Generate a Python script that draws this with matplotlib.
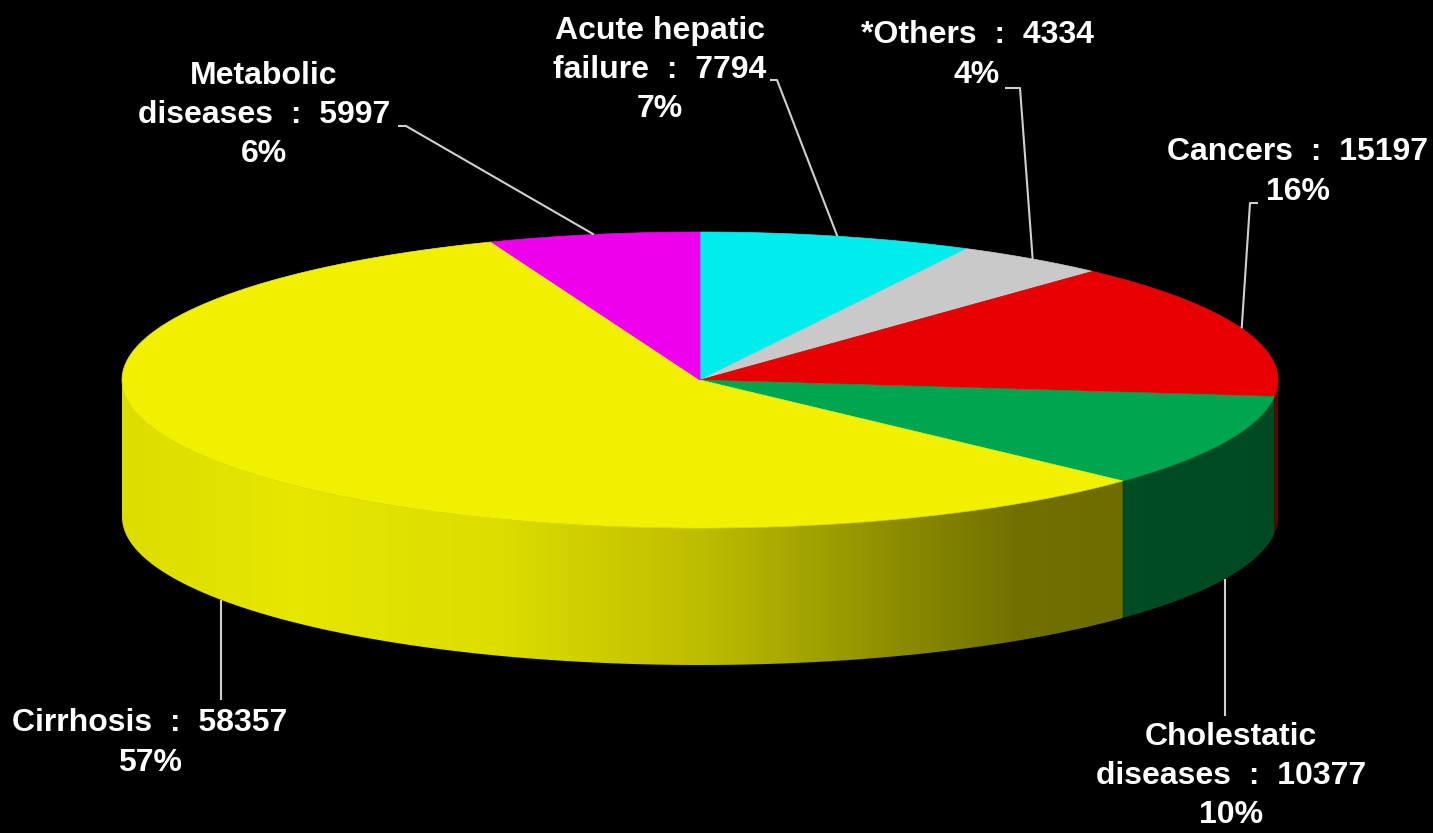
import numpy as np
import matplotlib
matplotlib.use("Agg")
import matplotlib.pyplot as plt
from matplotlib.patches import Polygon
from matplotlib.colors import to_rgb

# ---- data ----
categories = ["Acute hepatic\nfailure", "*Others", "Cancers",
              "Cholestatic\ndiseases", "Cirrhosis", "Metabolic\ndiseases"]
values = [7794, 4334, 15197, 10377, 58357, 5997]
percents = [7, 4, 16, 10, 57, 6]
colors = ["#00eded", "#c9c9c9", "#e80000", "#00a64f", "#f0f000", "#ee00ee"]

# ---- layout (pixel space) ----
W, H = 1433, 833
CX, CY, RX, RY, DEPTH = 700, 380, 578, 148, 137
FS = 23
LINE_C = "#d0d0d0"

label_pos = [(660, 70), (977, 55), (1298, 172), (1231, 776), (150, 743), (264, 115)]
leader_start = [[(770, 80), (777, 80)],
                [(1005, 88), (1020, 88)],
                [(1258, 203), (1250, 203)],
                None,
                None,
                [(398, 126), (406, 126)]]
vertical_end = [None, None, None, 716, 700, None]

fig = plt.figure(figsize=(W / 100, H / 100), dpi=100, facecolor="black")
ax = fig.add_axes([0, 0, 1, 1])
ax.set_facecolor("black")
ax.set_xlim(0, W)
ax.set_ylim(H, 0)
ax.axis("off")


def ell(t):
    r = np.radians(t)
    return CX + RX * np.sin(r), CY - RY * np.cos(r)


total = float(sum(values))
bounds = np.concatenate([[0], np.cumsum(values)]) / total * 360.0

# side walls (front half only: 90..270 deg clockwise from top), smooth gradient
xcols = np.arange(CX - RX - 2, CX + RX + 3)
nx = np.clip((xcols - CX) / RX, -1, 1)
shade = np.interp(nx, [-1, -0.7, -0.35, 0, 0.35, 0.55, 0.7, 1],
                  [0.92, 0.96, 0.92, 0.79, 0.58, 0.47, 0.46, 0.45])
for i, col in enumerate(colors):
    a0, a1 = max(bounds[i], 90), min(bounds[i + 1], 270)
    if a1 <= a0:
        continue
    ts = np.linspace(a0, a1, 300)
    xs, ys = ell(ts)
    pts = list(zip(xs, ys)) + list(zip(xs[::-1], ys[::-1] + DEPTH))
    patch = Polygon(pts, closed=True, facecolor="none", edgecolor="none")
    ax.add_patch(patch)
    base = np.array(to_rgb(col))
    img = (shade[None, :, None] * base[None, None, :]).repeat(2, axis=0)
    im = ax.imshow(img, extent=(xcols[0], xcols[-1], CY + RY + DEPTH + 5, CY - 5),
                   aspect="auto", interpolation="bilinear", zorder=1)
    im.set_clip_path(patch)

# top face
for i, col in enumerate(colors):
    ts = np.linspace(bounds[i], bounds[i + 1], 200)
    xs, ys = ell(ts)
    pts = [(CX, CY)] + list(zip(xs, ys))
    ax.add_patch(Polygon(pts, closed=True, facecolor=col, edgecolor=col,
                         linewidth=0.5, zorder=2))

ax.set_xlim(0, W)
ax.set_ylim(H, 0)

# labels and leader lines
for i, name in enumerate(categories):
    txt = f"{name}  :  {values[i]}\n{percents[i]}%"
    lx, ly = label_pos[i]
    ax.text(lx, ly, txt, color="white", fontsize=FS, fontweight="bold",
            family=["Liberation Sans", "DejaVu Sans"], ha="center", va="center",
            multialignment="center", linespacing=1.4, zorder=4)
    mid = (bounds[i] + bounds[i + 1]) / 2
    px, py = ell(mid)
    if 90 < mid < 270:
        py = py + DEPTH
    if leader_start[i] is not None:
        pts = leader_start[i] + [(px, py)]
    else:
        pts = [(px, py), (px, vertical_end[i])]
    xs, ys = zip(*pts)
    ax.plot(xs, ys, color=LINE_C, lw=1.5, solid_capstyle="butt", zorder=3)

fig.savefig("out.png", dpi=100, facecolor="black")
